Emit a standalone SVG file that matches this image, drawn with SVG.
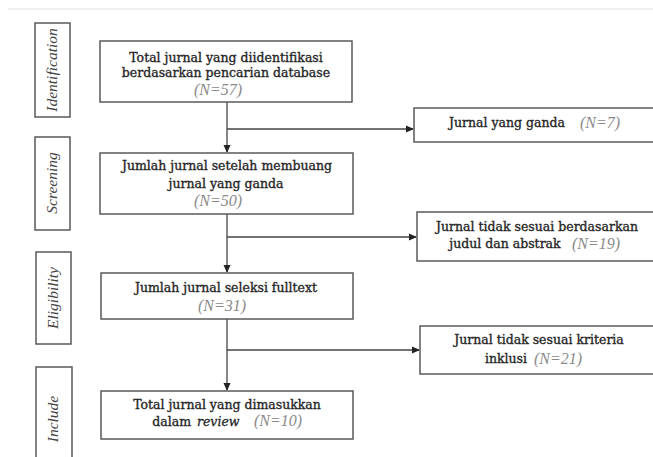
<svg xmlns="http://www.w3.org/2000/svg" width="653" height="457" viewBox="0 0 653 457">
<style>
.box{fill:#fff;stroke:#5a5a5a;stroke-width:1.5}
.side{fill:#fff;stroke:#5a5a5a;stroke-width:1.5}
.t{font-family:"DejaVu Serif","Liberation Serif",serif;font-size:12.5px;fill:#262626;stroke:#262626;stroke-width:0.35;text-anchor:middle}
.ti{font-family:"DejaVu Serif","Liberation Serif",serif;font-style:italic;font-size:12.5px;fill:#262626;stroke:#262626;stroke-width:0.3}
.n{font-family:"Liberation Serif",serif;font-style:italic;font-size:16px;fill:#8a8a8a;text-anchor:middle}
.s{font-family:"Liberation Serif",serif;font-style:italic;font-size:15.5px;fill:#444;text-anchor:middle}
.ln{stroke:#444;stroke-width:1.3;fill:none}
</style>
<defs>
<marker id="ah" markerWidth="8" markerHeight="8" refX="7" refY="4" orient="auto" markerUnits="userSpaceOnUse">
<path d="M0,0.5 L8,4 L0,7.5 Z" fill="#222"/>
</marker>
</defs>
<rect width="653" height="457" fill="#fff"/>
<line x1="8" y1="9" x2="653" y2="9" stroke="#f0f0f0" stroke-width="2"/>

<g id="side-identification">
<rect class="side" x="35" y="23" width="35" height="94"/>
<text class="s" transform="translate(57,70) rotate(-90)">Identification</text>
</g>
<g id="side-screening">
<rect class="side" x="35" y="137" width="35" height="93"/>
<text class="s" transform="translate(57,183) rotate(-90)">Screening</text>
</g>
<g id="side-eligibility">
<rect class="side" x="36" y="252" width="35" height="92"/>
<text class="s" transform="translate(58,298) rotate(-90)">Eligibility</text>
</g>
<g id="side-include">
<rect class="side" x="36" y="367" width="36" height="100"/>
<text class="s" transform="translate(58,419) rotate(-90)">Include</text>
</g>

<g id="connectors">
<line class="ln" x1="227" y1="102" x2="227" y2="152" marker-end="url(#ah)"/>
<line class="ln" x1="227" y1="129" x2="413" y2="129" marker-end="url(#ah)"/>
<line class="ln" x1="227" y1="214" x2="227" y2="272" marker-end="url(#ah)"/>
<line class="ln" x1="227" y1="237" x2="416" y2="237" marker-end="url(#ah)"/>
<line class="ln" x1="227" y1="319" x2="227" y2="390" marker-end="url(#ah)"/>
<line class="ln" x1="227" y1="350" x2="419" y2="350" marker-end="url(#ah)"/>
</g>

<g id="n1">
<rect class="box" x="100" y="41" width="252" height="61"/>
<text class="t" x="226" y="62">Total jurnal yang diidentifikasi</text>
<text class="t" x="226" y="77">berdasarkan pencarian database</text>
<text class="n" x="218" y="95">(N=57)</text>
</g>
<g id="n2">
<rect class="box" x="100" y="153" width="253" height="61"/>
<text class="t" x="227" y="170">Jumlah jurnal setelah membuang</text>
<text class="t" x="226" y="188">jurnal yang ganda</text>
<text class="n" x="218" y="206">(N=50)</text>
</g>
<g id="n3">
<rect class="box" x="101" y="273" width="252" height="46"/>
<text class="t" x="226" y="292">Jumlah jurnal seleksi fulltext</text>
<text class="n" x="222" y="311">(N=31)</text>
</g>
<g id="n4">
<rect class="box" x="101" y="391" width="252" height="48"/>
<text class="t" x="227" y="409">Total jurnal yang dimasukkan</text>
<text class="t" x="191" y="426" style="text-anchor:end">dalam</text>
<text class="ti" x="197" y="426">review</text>
<text class="n" x="278" y="426">(N=10)</text>
</g>
<g id="r1">
<rect class="box" x="414" y="108" width="250" height="34"/>
<text class="t" x="507" y="127">Jurnal yang ganda</text>
<text class="n" x="600" y="128">(N=7)</text>
</g>
<g id="r2">
<rect class="box" x="417" y="212" width="250" height="49"/>
<text class="t" x="537" y="231">Jurnal tidak sesuai berdasarkan</text>
<text class="t" x="505" y="248">judul dan abstrak</text>
<text class="n" x="596" y="249">(N=19)</text>
</g>
<g id="r3">
<rect class="box" x="420" y="326" width="250" height="48"/>
<text class="t" x="539" y="344">Jurnal tidak sesuai kriteria</text>
<text class="t" x="506" y="363">inklusi</text>
<text class="n" x="558" y="364">(N=21)</text>
</g>
</svg>
